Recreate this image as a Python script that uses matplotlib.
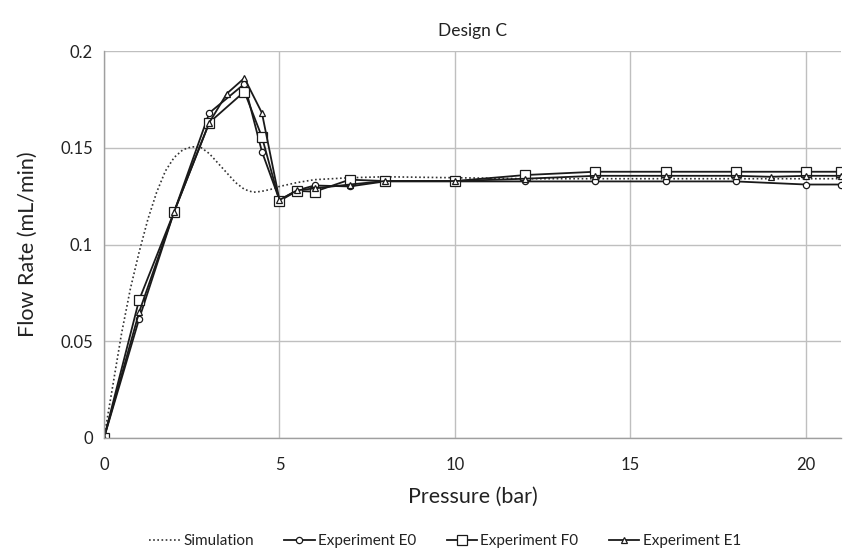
import matplotlib
matplotlib.use("Agg")
import matplotlib.pyplot as plt

plt.rcParams['font.family'] = ['Lato', 'DejaVu Sans']

# Simulation curve
sim_x = [0, 0.25, 0.5, 0.75, 1.0, 1.25, 1.5, 1.75, 2.0, 2.25, 2.5, 2.75, 3.0, 3.25, 3.5,
         3.75, 4.0, 4.25, 4.5, 4.75, 5.0, 5.5, 6, 7, 8, 10, 12, 14, 16, 18, 20, 21]
sim_y = [0, 0.027, 0.054, 0.077, 0.096, 0.113, 0.127, 0.138, 0.145, 0.149, 0.1505, 0.1503,
         0.147, 0.142, 0.137, 0.132, 0.1285, 0.127, 0.1275, 0.1285, 0.130, 0.132, 0.1335,
         0.1345, 0.135, 0.1345, 0.134, 0.134, 0.134, 0.134, 0.134, 0.134]

e0_x = [0, 1, 2, 3, 4, 4.5, 5, 5.5, 6, 7, 8, 10, 12, 14, 16, 18, 20, 21]
e0_y = [0, 0.0615, 0.117, 0.168, 0.183, 0.148, 0.123, 0.128, 0.1305, 0.130, 0.1326, 0.1326,
        0.1326, 0.1326, 0.1326, 0.1326, 0.131, 0.131]

f0_x = [0, 1, 2, 3, 4, 4.5, 5, 5.5, 6, 7, 8, 10, 12, 14, 16, 18, 20, 21]
f0_y = [0, 0.0713, 0.117, 0.163, 0.179, 0.1556, 0.1225, 0.1277, 0.1273, 0.1335, 0.1328,
        0.1328, 0.1359, 0.1376, 0.1376, 0.1376, 0.1376, 0.1376]

e1_x = [0, 1, 2, 3, 3.5, 4, 4.5, 5, 5.5, 6, 7, 8, 10, 12, 14, 16, 18, 19, 20, 21]
e1_y = [0, 0.065, 0.117, 0.163, 0.178, 0.186, 0.168, 0.123, 0.128, 0.129, 0.131, 0.1328,
        0.1328, 0.134, 0.1355, 0.1355, 0.1355, 0.135, 0.1355, 0.1355]

x_ticks = [0, 5, 10, 15, 20]
y_ticks = [0, 0.05, 0.1, 0.15, 0.2]
y_tick_labels = ["0", "0.05", "0.1", "0.15", "0.2"]

fig = plt.figure(figsize=(8.43, 5.49), dpi=100)
ax = fig.add_axes([104/843, 1-438/549, (841-104)/843, (438-51)/549])

ax.plot(sim_x, sim_y, color='#333333', linestyle=(0, (1, 1.5)), linewidth=1.2, label='Simulation')
ax.plot(e0_x, e0_y, color='#1a1a1a', linewidth=1.3, marker='o', markersize=4.5,
        markerfacecolor='white', markeredgecolor='#1a1a1a', markeredgewidth=0.9, label='Experiment E0')
ax.plot(f0_x, f0_y, color='#1a1a1a', linewidth=1.3, marker='s', markersize=7,
        markerfacecolor='white', markeredgecolor='#1a1a1a', markeredgewidth=0.9, label='Experiment F0')
ax.plot(e1_x, e1_y, color='#1a1a1a', linewidth=1.3, marker='^', markersize=5,
        markerfacecolor='white', markeredgecolor='#1a1a1a', markeredgewidth=0.9, label='Experiment E1')

ax.set_xlim(0, 21)
ax.set_ylim(0, 0.2)
ax.set_xticks(x_ticks)
ax.set_yticks(y_ticks)
ax.set_yticklabels(y_tick_labels)
ax.grid(True, color='#BFBFBF', linewidth=1.0)
ax.set_axisbelow(True)
for s in ['top', 'right']:
    ax.spines[s].set_visible(False)
for s in ['left', 'bottom']:
    ax.spines[s].set_color('#9f9f9f')
    ax.spines[s].set_linewidth(1.0)
ax.tick_params(length=0, labelsize=12, colors='#222222')
ax.tick_params(axis='y', pad=8)
ax.tick_params(axis='x', pad=14)

ax.set_xlabel('Pressure (bar)', fontsize=15.5, color='#222222', labelpad=10)
ax.set_ylabel('Flow Rate (mL/min)', fontsize=15.5, color='#222222', labelpad=16)
ax.set_title('Design C', fontsize=12.5, color='#222222', pad=11)

fig.legend(loc='center', bbox_to_anchor=(0.528, 1-541/549), ncol=4, frameon=False,
           fontsize=11, handlelength=2.0, columnspacing=2.0, handletextpad=0.2,
           labelcolor='#222222')

fig.savefig('out.png', dpi=100)
